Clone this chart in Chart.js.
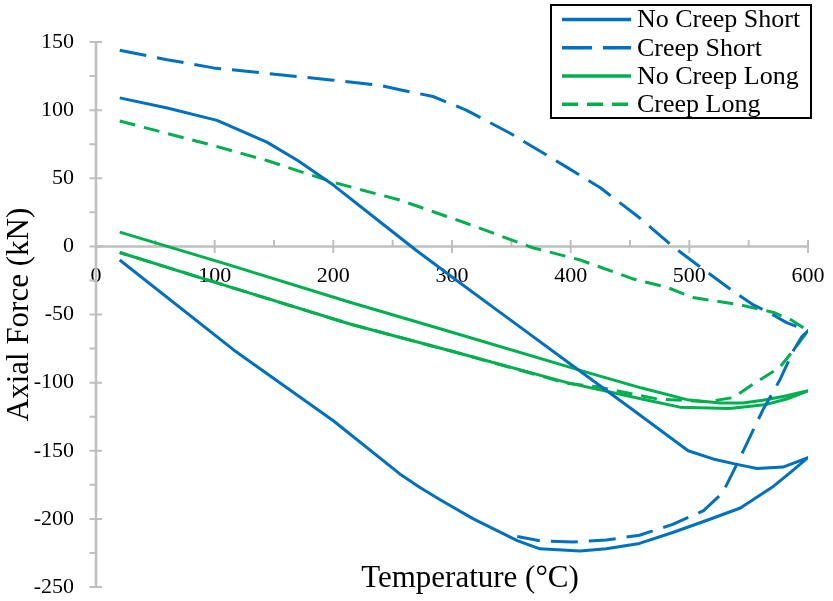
<!DOCTYPE html>
<html>
<head>
<meta charset="utf-8">
<script src="https://cdn.jsdelivr.net/npm/chart.js@4/dist/chart.umd.min.js"></script>
<style>
  html, body { margin: 0; padding: 0; background: #fff; }
  #wrap { width: 833px; height: 601px; }
</style>
</head>
<body>
<div id="wrap"><canvas id="c" width="833" height="601"></canvas></div>
<script>
// Axial force (kN) against temperature (°C): heating to 600 °C and cooling back.
const seriesNames = ['No Creep Short', 'Creep Short', 'No Creep Long', 'Creep Long'];

const noCreepShortT = [20, 60, 102, 144, 170, 200, 240, 270, 304, 350, 400, 450, 499, 520, 540, 557, 579, 600,
                       585, 571, 543, 515, 486, 458, 430, 408, 374, 355, 318, 290, 273, 256, 200, 116, 20];
const noCreepShortF = [109, 101.5, 92.5, 76.5, 63, 45, 17.5, -3, -25, -54.5, -86.5, -118.5, -150, -156, -160, -163, -162, -155,
                       -166, -176, -192, -201, -210, -218, -222, -223.5, -222, -216, -200, -186, -177, -167, -128, -76, -10];

const creepShortT = [20, 60, 99, 144, 200, 240, 256, 284, 312, 349, 397, 425, 458, 486, 509, 537, 554, 568, 582, 600,
                     595, 588, 576, 562, 551, 540, 528, 512, 486, 458, 430, 402, 374, 355];
const creepShortF = [144, 137, 131, 127, 122, 118, 115, 110, 100, 83, 58, 43, 21, 0, -15, -33, -43, -49, -56, -62,
                     -66, -76, -98.5, -120, -140, -160, -181, -194, -204, -212, -215.5, -217, -216, -213];

const noCreepLongT = [20, 110, 214, 300, 416, 460, 498, 526, 545, 562, 580, 600,
                      582, 565, 534, 492, 460, 397, 300, 214, 110, 20];
const noCreepLongF = [10.5, -13, -41, -63, -93, -104, -112.5, -115, -115, -113, -110, -106,
                      -112, -116, -119, -118, -112, -100, -77, -57, -29, -4.5];

const creepLongT = [20, 99, 144, 200, 256, 312, 368, 408, 453, 481, 503, 543, 571, 586, 600,
                    588, 576, 554, 537, 515, 473, 422, 397, 300, 214, 110, 20];
const creepLongF = [92, 74, 63, 47, 34, 17, -1, -10, -24, -30, -37.5, -43, -48.5, -54, -62,
                    -76, -89, -101, -111, -114, -112, -103, -100.5, -77, -57, -29, -4.5];

const xTicks = { min: 0, max: 600, step: 100 };
const yTicks = { min: -250, max: 150, step: 50 };

const BLUE = '#0070C0';
const GREEN = '#00B050';
const SERIF = '"Liberation Serif", "Times New Roman", serif';
const AXIS_GREY = '#BFBFBF';

const pts = (xs, ys) => xs.map((x, i) => ({ x: x, y: ys[i] }));

function lineSet(label, xs, ys, color, dash) {
  return {
    label: label,
    data: pts(xs, ys),
    showLine: true,
    borderColor: color,
    backgroundColor: color,
    borderWidth: 3,
    borderDash: dash,
    borderCapStyle: 'butt',
    borderJoinStyle: 'round',
    pointRadius: 0,
    pointHoverRadius: 0,
    tension: 0,
    fill: false
  };
}

// Axis lines, major/minor tick marks, boxed legend and the temperature caption.
const framePlugin = {
  id: 'frame',
  beforeDatasetsDraw(chart) {
    const { ctx, scales: { x, y } } = chart;
    const x0 = x.getPixelForValue(0);
    const y0 = y.getPixelForValue(0);
    ctx.save();
    ctx.strokeStyle = AXIS_GREY;
    ctx.lineWidth = 2.5;
    ctx.beginPath();
    ctx.moveTo(x0, y.getPixelForValue(yTicks.max) - 1);
    ctx.lineTo(x0, y.getPixelForValue(yTicks.min) + 1);
    ctx.moveTo(x.getPixelForValue(xTicks.min) - 1, y0);
    ctx.lineTo(x.getPixelForValue(xTicks.max) + 1, y0);
    ctx.stroke();
    ctx.lineWidth = 2;
    ctx.beginPath();
    for (let v = yTicks.min; v <= yTicks.max; v += yTicks.step / 2) {
      const py = y.getPixelForValue(v);
      const major = v % yTicks.step === 0;
      ctx.moveTo(x0 - 6.5, py);
      ctx.lineTo(major ? x0 + 6 : x0, py);
    }
    for (let v = xTicks.min + xTicks.step / 2; v <= xTicks.max; v += xTicks.step / 2) {
      const px = x.getPixelForValue(v);
      const major = v % xTicks.step === 0;
      ctx.moveTo(px, y0 - 6.5);
      ctx.lineTo(px, major ? y0 + 6.5 : y0);
    }
    ctx.stroke();
    ctx.restore();
  },
  afterDraw(chart) {
    const { ctx } = chart;
    ctx.save();
    // legend
    const box = { left: 551, top: 5, right: 811, bottom: 118 };
    ctx.fillStyle = '#fff';
    ctx.fillRect(box.left, box.top, box.right - box.left, box.bottom - box.top);
    ctx.strokeStyle = '#000';
    ctx.lineWidth = 2;
    ctx.strokeRect(box.left, box.top, box.right - box.left, box.bottom - box.top);
    const rowY = [19.5, 47.7, 76, 104.3];
    chart.data.datasets.forEach((ds, i) => {
      const yy = rowY[i];
      ctx.strokeStyle = ds.borderColor;
      ctx.lineWidth = 3.5;
      ctx.lineCap = 'butt';
      ctx.setLineDash(i === 1 ? [30, 11] : (ds.borderDash || []));
      ctx.beginPath();
      ctx.moveTo(562, yy);
      ctx.lineTo(631, yy);
      ctx.stroke();
      ctx.setLineDash([]);
      ctx.fillStyle = '#000';
      ctx.font = '26px ' + SERIF;
      ctx.textAlign = 'left';
      ctx.textBaseline = 'middle';
      ctx.fillText(ds.label, 637, yy + 1);
    });
    // x-axis caption
    ctx.font = '31px ' + SERIF;
    ctx.fillStyle = '#000';
    ctx.textAlign = 'center';
    ctx.textBaseline = 'middle';
    ctx.fillText('Temperature (°C)', 470, 579);
    ctx.restore();
  }
};

new Chart(document.getElementById('c'), {
  type: 'scatter',
  data: {
    datasets: [
      lineSet(seriesNames[0], noCreepShortT, noCreepShortF, BLUE, []),
      lineSet(seriesNames[1], creepShortT, creepShortF, BLUE, [27, 11]),
      lineSet(seriesNames[2], noCreepLongT, noCreepLongF, GREEN, []),
      lineSet(seriesNames[3], creepLongT, creepLongF, GREEN, [16, 9])
    ]
  },
  options: {
    responsive: false,
    animation: false,
    devicePixelRatio: 1,
    layout: { padding: { left: 0, top: 42, right: 25, bottom: 14 } },
    plugins: {
      legend: { display: false },
      tooltip: { enabled: false }
    },
    scales: {
      x: {
        type: 'linear',
        position: { y: 0 },
        min: xTicks.min,
        max: xTicks.max,
        ticks: {
          stepSize: xTicks.step,
          padding: 17,
          maxRotation: 0,
          autoSkip: false,
          color: '#000',
          font: { family: SERIF, size: 22 }
        },
        grid: { display: false, drawTicks: false },
        border: { display: false },
        afterFit(scale) {
          scale.height = 0;
          scale.paddingLeft = 0;
          scale.paddingRight = 0;
        }
      },
      y: {
        type: 'linear',
        position: 'left',
        min: yTicks.min,
        max: yTicks.max,
        ticks: {
          stepSize: yTicks.step,
          padding: 22,
          color: '#000',
          font: { family: SERIF, size: 22 }
        },
        grid: { display: false, drawTicks: false },
        border: { display: false },
        title: {
          display: true,
          text: 'Axial Force (kN)',
          color: '#000',
          font: { family: SERIF, size: 31 },
          padding: { top: 1, bottom: 0 }
        },
        afterFit(scale) {
          scale.width = 96;
          scale.paddingTop = 0;
          scale.paddingBottom = 0;
        }
      }
    }
  },
  plugins: [framePlugin]
});
</script>
</body>
</html>
